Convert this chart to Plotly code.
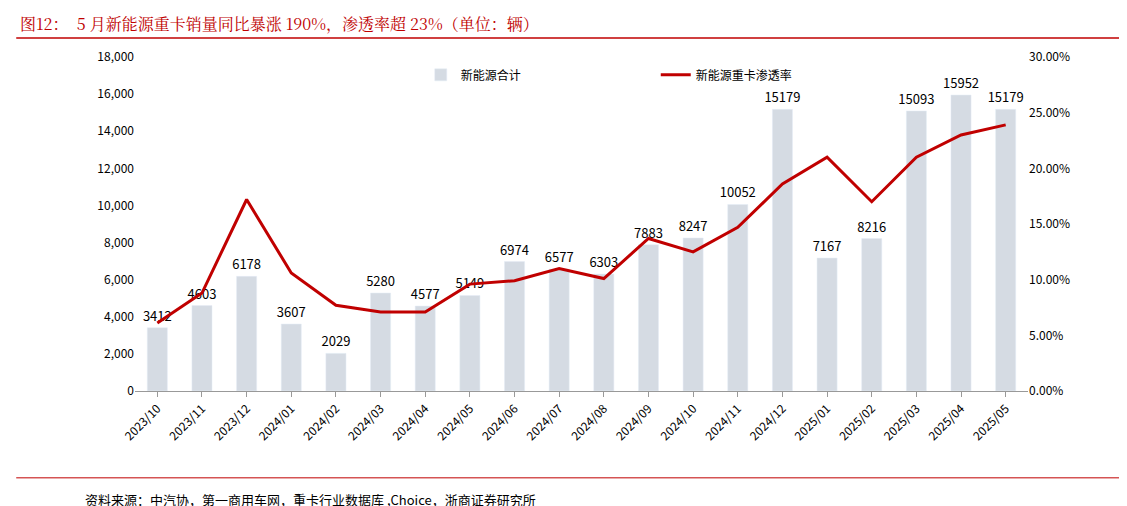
import plotly.graph_objects as go

months = ["2023/10", "2023/11", "2023/12", "2024/01", "2024/02", "2024/03", "2024/04",
          "2024/05", "2024/06", "2024/07", "2024/08", "2024/09", "2024/10", "2024/11",
          "2024/12", "2025/01", "2025/02", "2025/03", "2025/04", "2025/05"]
sales = [3412, 4603, 6178, 3607, 2029, 5280, 4577, 5149, 6974, 6577, 6303, 7883,
         8247, 10052, 15179, 7167, 8216, 15093, 15952, 15179]
penetration = [6.1, 8.8, 17.2, 10.6, 7.7, 7.1, 7.1, 9.6, 9.9, 11.0, 10.1, 13.7,
               12.5, 14.7, 18.6, 21.0, 17.0, 21.0, 23.0, 23.9]

RED = "#c00000"
FONT = "Noto Sans CJK SC"

fig = go.Figure()
fig.add_trace(go.Bar(x=months, y=sales, name="新能源合计", marker_color="#d5dbe3",
                     text=[str(v) for v in sales], textposition="outside",
                     textfont=dict(size=13, color="#000"), cliponaxis=False))
fig.add_trace(go.Scatter(x=months, y=[p / 100 for p in penetration], name="新能源重卡渗透率",
                         mode="lines", line=dict(color=RED, width=3), yaxis="y2"))

fig.update_layout(
    width=1127, height=506, plot_bgcolor="white", paper_bgcolor="white",
    font=dict(family=FONT, size=12, color="#000"),
    margin=dict(l=127, r=107, t=49, b=123),
    bargap=0.55,
    uniformtext=dict(minsize=13, mode="show"),
    xaxis=dict(tickangle=-45, showline=True, linecolor="#999", ticks="outside",
               tickcolor="#999", tickfont=dict(size=12)),
    yaxis=dict(range=[0, 18000], dtick=2000, tickformat=",", showgrid=False,
               showline=False, ticks="", tickfont=dict(size=12)),
    yaxis2=dict(range=[0, 0.3], dtick=0.05, tickformat=".2%", overlaying="y", side="right",
                showgrid=False, tickfont=dict(size=12)),
    legend=dict(orientation="h", x=0.32, y=0.99, xanchor="left", yanchor="top",
                font=dict(size=12), bgcolor="rgba(0,0,0,0)", entrywidth=190),
    annotations=[
        dict(text="图12：  5 月新能源重卡销量同比暴涨 190%，渗透率超 23%（单位：辆）",
             xref="paper", yref="paper", x=-0.131, y=1.10, xanchor="left", yanchor="middle",
             showarrow=False, font=dict(size=16, color=RED, family="Noto Serif CJK SC, " + FONT)),
        dict(text="资料来源：中汽协，第一商用车网，重卡行业数据库 ,Choice，浙商证券研究所",
             xref="paper", yref="paper", x=-0.058, y=-0.326, xanchor="left", yanchor="middle",
             showarrow=False, font=dict(size=13)),
    ],
    shapes=[
        dict(type="line", xref="paper", yref="paper", x0=-0.133, x1=1.109, y0=1.057, y1=1.057,
             line=dict(color=RED, width=1.5)),
        dict(type="line", xref="paper", yref="paper", x0=-0.133, x1=1.109, y0=-0.26, y1=-0.26,
             line=dict(color=RED, width=1)),
    ],
)

fig.write_html("out.html")
